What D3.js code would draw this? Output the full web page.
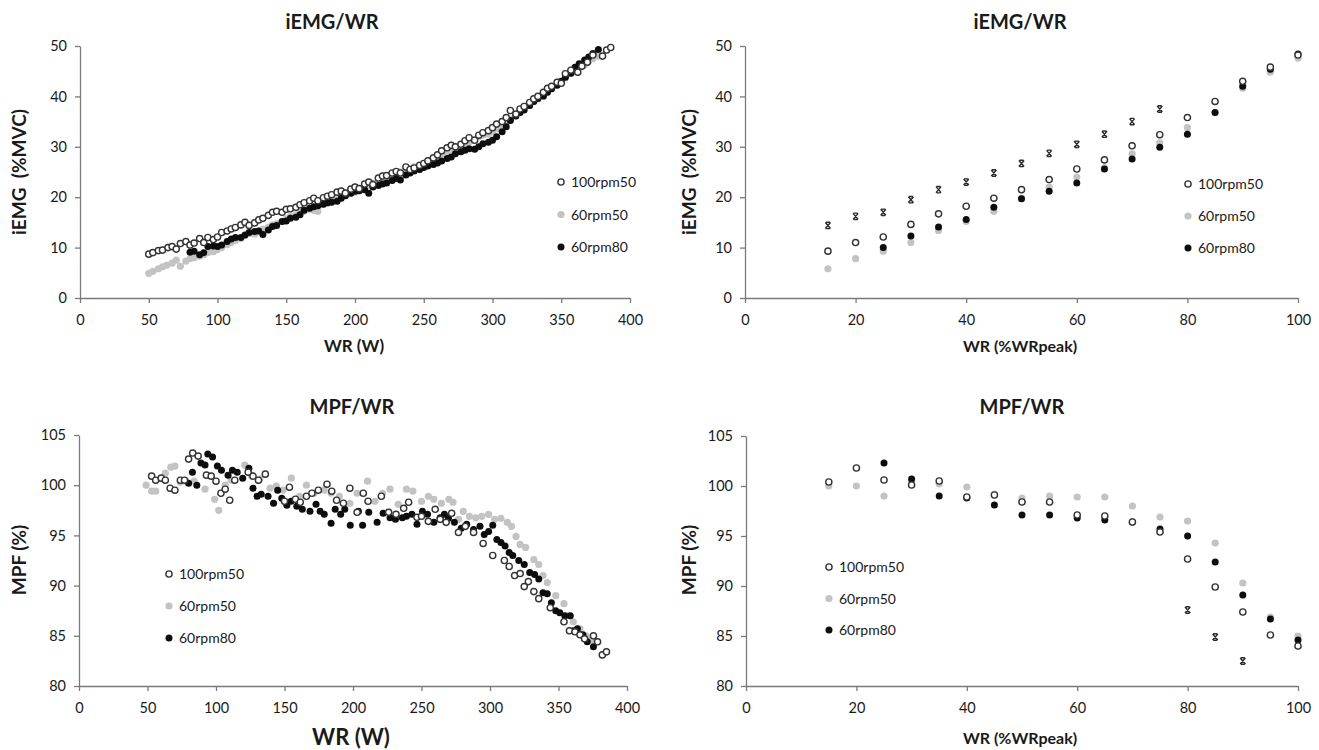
<!DOCTYPE html>
<meta charset="utf-8">
<body style="margin:0;background:#fff">
<style>
  text { font-family: Lato, "Open Sans", sans-serif; fill: #1a1a1a; }
  .axis path, .axis line { stroke: #7a7a7a; stroke-width: 1.3px; }
  .axis text { font-size: 14.5px; }
  .ttl { font-size: 20px; font-weight: bold; }
  .lbl { font-size: 19px; font-weight: bold; white-space: pre; }
  .leg { font-size: 14px; }
</style>
<script src="https://d3js.org/d3.v7.min.js"></script>
<script>
// ---- data: iEMG vs absolute WR (W) ----
var iemgW_100rpm50 = [[50,8.7],[53,9.0],[57,9.4],[60,9.5],[64,10],[67,10.2],[70,9.7],[73,10.8],[77,11.2],[80,10.5],[83,10.9],[87,11.8],[90,11],[93,12],[97,11.6],[100,12.1],[103,13],[107,13.3],[110,13.7],[113,14],[117,14.5],[120,15],[123,14.4],[127,14.9],[130,15.5],[133,15.8],[137,16.4],[140,17],[143,17.2],[147,17],[150,17.6],[153,17.7],[157,18],[160,18.5],[163,18.9],[167,19.3],[170,19.8],[173,19.3],[177,19.9],[180,20.2],[183,20.5],[187,21],[190,21.2],[193,20.8],[197,21.6],[200,22],[203,21.7],[207,22.6],[210,23],[213,22.5],[217,23.8],[220,24.2],[223,24.3],[227,24.8],[230,25.1],[233,24.8],[237,26],[240,25.5],[243,25.8],[247,26.3],[250,26.7],[253,27.2],[257,27.8],[260,28.4],[263,29.2],[267,29.8],[270,30.3],[273,30],[277,30.5],[280,31.2],[283,31.8],[287,31.3],[290,32.3],[293,32.8],[297,33.2],[300,33.8],[303,34.5],[307,35],[310,35.8],[313,37.2],[317,36.5],[320,37.5],[323,38],[327,38.8],[330,39.5],[333,40],[337,40.8],[340,41.6],[343,42],[347,42.8],[350,42.6],[353,44.5],[357,45.2],[362,44.8],[365,46],[369,46.8],[373,48.2],[380,48],[383,49.2],[386,49.7]];
var iemgW_60rpm50 = [[50,4.9],[53,5.3],[57,5.8],[60,6.2],[63,6.5],[67,6.9],[70,7.5],[73,6.3],[77,7.3],[80,7.8],[83,8],[87,8.3],[90,8.6],[93,9],[97,9.2],[100,9.6],[103,10],[107,10.6],[110,11],[113,11.4],[117,11.8],[120,12.4],[123,12.8],[127,12.7],[130,13.3],[133,13.6],[137,14],[140,14.5],[143,14.7],[147,15.2],[150,15.7],[153,16.2],[157,16.5],[160,17],[163,17.2],[167,17.6],[170,17.4],[173,17.2],[177,18.6],[180,18.8],[183,19.2],[187,19.5],[190,20],[193,20.4],[197,20.8],[200,21],[203,21.3],[207,21.8],[210,22.4],[213,22.8],[217,23.2],[220,23.5],[223,24],[227,24.3],[230,24.7],[233,25],[237,25.4],[240,25.6],[243,26],[247,26.4],[250,26.6],[253,27],[257,27.6],[260,28],[263,28.6],[267,29],[270,29.5],[273,29.8],[277,30.2],[280,30.5],[283,31],[287,31.5],[290,32],[293,32.3],[297,32.5],[300,33],[303,33.6],[307,34.3],[310,34.8],[313,35.5],[317,36.2],[320,37],[323,37.6],[327,38.2],[330,39],[333,39.5],[337,40],[340,41],[343,41.6],[347,42.3],[350,43],[353,43.7],[357,44.5],[360,45.3],[363,45.6],[367,46.3],[370,47],[373,47.5],[377,48]];
var iemgW_60rpm80 = [[80,9.1],[83,9.3],[87,8.6],[90,9],[93,10.2],[97,10.3],[100,10.2],[103,10.5],[107,11.2],[110,11.7],[113,12],[117,12],[120,12.5],[123,13],[127,13.2],[130,13.3],[133,12.6],[137,13.5],[140,14.2],[143,14.4],[147,15.2],[150,15.3],[153,15.8],[157,16],[160,16.5],[163,17.4],[167,17.8],[170,18.1],[173,18.3],[177,18.6],[180,18.9],[183,19],[187,19.2],[190,19.8],[193,20.3],[197,20.8],[200,21.2],[203,21.3],[207,21.5],[210,20.8],[213,22],[217,22.3],[220,22.6],[223,22.8],[227,23.3],[230,23.7],[233,23.4],[237,24.4],[240,24.8],[243,25.2],[247,25.5],[250,25.9],[253,26.2],[257,26.5],[260,26.8],[263,27.2],[267,27.7],[270,28],[273,28.6],[277,29],[280,29.3],[283,29.6],[287,29.5],[290,30],[293,30.6],[297,30.9],[300,31.3],[303,32],[307,33],[310,34],[313,35.2],[317,36.1],[320,36.8],[323,37.3],[327,38.2],[330,39],[333,39.6],[337,40.1],[340,40.8],[343,41.5],[347,42.2],[350,43],[353,43.8],[357,44.6],[360,45.8],[363,46.5],[367,47.2],[370,47.8],[373,48.5],[377,49.3]];

// ---- data: iEMG vs relative WR (%WRpeak) ----
var pctX = [15,20,25,30,35,40,45,50,55,60,65,70,75,80,85,90,95,100];
var iemgP_100rpm50 = [9.3,11,12.1,14.6,16.7,18.2,19.8,21.5,23.5,25.6,27.4,30.2,32.4,35.8,39,43,45.8,48.2];
var iemgP_60rpm50 = [5.8,7.8,9.3,11,13.4,15.2,17.2,19.8,22,24,25.8,28.6,30.8,33.8,36.8,41.6,44.8,47.6];
var iemgP_60rpm80 = [null,null,10,12.3,14.1,15.6,18,19.7,21.2,22.8,25.6,27.6,29.9,32.5,36.8,42,45.4,48.4];
var iemgP_star = [14.4,16.2,17,19.5,21.5,23,24.8,26.7,28.7,30.5,32.5,35,37.5,null,null,null,null,null];

// ---- data: MPF vs absolute WR (W) ----
var mpfW_100rpm50 = [[53,100.9],[56,100.5],[60,100.7],[63,100.5],[66.5,99.7],[70,99.5],[74,100.5],[77,100.5],[80,102.6],[83,103.2],[87,102.9],[93,101],[96.5,100.9],[100,100.4],[103.6,99.2],[106.7,99.6],[110,98.5],[113.7,100.5],[123.5,101.3],[127,100.9],[131,100.5],[136,101.1],[150,98.4],[153.6,99.8],[158,98.6],[161.5,98.3],[166,98.9],[170,99.2],[174.7,99.5],[181,100.1],[184.5,99.4],[188,98.5],[193,98.2],[197.7,99.7],[203,97.3],[207.5,99.2],[211,98.4],[220.7,98.9],[226,97.3],[231.4,97.1],[237,97.7],[240.6,98.3],[246.7,96.8],[250,96.9],[255,96.4],[260,97.6],[263.6,96.6],[268,96.3],[272,97.2],[277,95.3],[282,95.9],[288,95.3],[295,94.2],[302,93],[310.5,92.5],[314,91.9],[318,91],[322,91.2],[325,89.9],[328,90.4],[332,89.4],[335.6,88.7],[344,87.8],[354,86.4],[358,85.5],[362,85.4],[365.7,85.1],[369,84.7],[375.5,85],[378.5,84.4],[382,83.1],[385,83.4]];
var mpfW_60rpm50 = [[49,100],[53,99.4],[56,99.4],[63,101.2],[67,101.8],[70,101.9],[74,100.3],[78,100.4],[84,100.4],[92,99.6],[99,98.6],[102,97.5],[106.7,100],[111,100.5],[121,102],[125.7,101],[132,100.6],[139.5,99.7],[144,99.9],[149,99.5],[155,100.7],[161,98.9],[166,100],[171.6,99.2],[179,99.5],[184,99.2],[190,98.9],[197.7,98.2],[203,99.2],[210.6,100.4],[216,98.4],[221.6,99.2],[227,99.6],[233,98.1],[239,99.6],[243.7,99.4],[250,98.4],[255,98.9],[259,98.6],[264.5,98.2],[270,98.6],[273,98.3],[277,96.6],[280.5,97.4],[285,96.9],[289.6,96.75],[294,96.9],[299,97.1],[303.4,96.6],[308,96.7],[312.6,96.3],[315.7,95.9],[319,94.9],[322,94.1],[326,93.8],[332,92.6],[335.6,92.1],[338.7,91],[341.8,90.3],[348,89],[354,88.2],[357,87],[360.8,86.4],[365.7,85.7],[370,85],[374,84.6],[378.5,84.4]];
var mpfW_60rpm80 = [[80,100.2],[82.8,101.3],[86,100],[89,102.2],[92,102],[94,103.1],[97.5,102.8],[101,101.9],[104,101.5],[108.8,101],[112,101.5],[115.5,101.3],[119.5,100.7],[124,101.7],[127,99.7],[130,98.9],[133,99.1],[138,98.9],[142,98.2],[145,99.5],[148,98.7],[151.7,98],[154.8,98.4],[159,97.9],[163,97.6],[168.6,97.4],[173,98.1],[176,97.4],[179,97.1],[184,96.2],[187,97.6],[191,97.1],[194,97.6],[198,96],[204,97.4],[207,96],[211.5,97.3],[217.6,96.3],[222,97.2],[227,96.75],[231,96.6],[236,96.75],[239,96.9],[243,97.1],[246.7,96.1],[250.7,97.4],[254.4,97.1],[259,96.3],[263.6,96.75],[266.7,97.1],[269.7,96.7],[274,96.3],[279,95.7],[283,96.1],[288,95.6],[292.7,95.9],[295.8,95.1],[299,95.4],[302,96],[305,94.6],[308,94.3],[311,93.95],[314,93.3],[316.6,93],[321,92.5],[325,92.1],[329,91.3],[332.6,91.1],[335.6,90.65],[338.7,89.3],[341.8,89.2],[344.8,88.3],[348,87.5],[351,87.3],[354.6,87],[358.6,87],[360.8,85.5],[363.8,85.7],[367.8,85.1],[371,84.4],[375.5,83.9]];

// ---- data: MPF vs relative WR (%WRpeak) ----
var mpfP_100rpm50 = [100.4,101.8,100.6,100.1,100.5,98.9,99.1,98.4,98.4,97.1,97,96.4,95.4,92.7,89.9,87.4,85.1,84];
var mpfP_60rpm50 = [100,100,99,100.5,100.2,99.9,99.2,98.8,99,98.9,98.9,98,96.9,96.5,94.3,90.3,86.9,85];
var mpfP_60rpm80 = [null,null,102.3,100.7,99,98.8,98.1,97.1,97.1,96.8,96.6,96.4,95.7,95,92.4,89.1,86.7,84.6];
var mpfP_star = [null,null,null,null,null,null,null,null,null,null,null,null,null,87.6,84.9,82.5,null,null];

var seriesNames = ["100rpm50", "60rpm50", "60rpm80"];
var wTicks = [0,50,100,150,200,250,300,350,400];
var pTicks = [0,20,40,60,80,100];
var iemgTicks = [0,10,20,30,40,50];
var mpfTicks = [80,85,90,95,100,105];

function pairs(xs, ys) {
  return xs.map(function(x, i) { return [x, ys[i]]; }).filter(function(d) { return d[1] != null; });
}

var styles = [
  {fill: "#fff", stroke: "#333", r: 3.1, sw: 1.4},
  {fill: "#c3c3c3", stroke: "none", r: 3.6, sw: 0},
  {fill: "#0d0d0d", stroke: "none", r: 3.5, sw: 0}
];

var svg = d3.select("body").append("svg").attr("width", 1319).attr("height", 750);

function panel(cfg) {
  var x = d3.scaleLinear().domain(cfg.xd).range(cfg.xr);
  var y = d3.scaleLinear().domain(cfg.yd).range(cfg.yr);
  var g = svg.append("g");

  g.append("g").attr("class", "axis")
    .attr("transform", "translate(0," + cfg.yr[0] + ")")
    .call(d3.axisBottom(x).tickValues(cfg.xt).tickSize(5).tickSizeOuter(0).tickPadding(12));
  g.append("g").attr("class", "axis")
    .attr("transform", "translate(" + cfg.xr[0] + ",0)")
    .call(d3.axisLeft(y).tickValues(cfg.yt).tickSize(5).tickSizeOuter(0).tickPadding(8));

  // series: grey first, then black, then open on top
  [1, 2, 0].forEach(function(k) {
    var s = styles[k];
    g.selectAll(null).data(cfg.series[k]).enter().append("circle")
      .attr("cx", function(d) { return x(d[0]); })
      .attr("cy", function(d) { return y(d[1]); })
      .attr("r", s.r).attr("fill", s.fill)
      .attr("stroke", s.stroke).attr("stroke-width", s.sw);
  });
  if (cfg.star) {
    g.selectAll(null).data(cfg.star).enter().append("path")
      .attr("transform", function(d) { return "translate(" + x(d[0]) + "," + y(d[1]) + ")"; })
      .attr("d", "M-2.6,-3L2.6,3M2.6,-3L-2.6,3M-2,-3.2H2M-2,3.2H2")
      .attr("stroke", "#2a2a2a").attr("stroke-width", 1.4).attr("fill", "none");
  }

  g.append("text").attr("class", "ttl").attr("text-anchor", "middle")
    .attr("x", cfg.title[1]).attr("y", cfg.title[2]).text(cfg.title[0]);
  g.append("text").attr("class", "lbl").attr("text-anchor", "middle")
    .style("font-size", cfg.xlab[3] + "px")
    .attr("x", cfg.xlab[1]).attr("y", cfg.xlab[2]).text(cfg.xlab[0]);
  g.append("text").attr("class", "lbl").attr("text-anchor", "middle")
    .attr("transform", "translate(" + cfg.ylab[1] + "," + cfg.ylab[2] + ") rotate(-90)")
    .text(cfg.ylab[0]);

  var leg = g.append("g").attr("transform", "translate(" + cfg.leg[0] + "," + cfg.leg[1] + ")");
  seriesNames.forEach(function(n, i) {
    var s = styles[i];
    leg.append("circle").attr("cx", 0).attr("cy", i * cfg.leg[2]).attr("r", s.r)
      .attr("fill", s.fill).attr("stroke", s.stroke).attr("stroke-width", s.sw);
    leg.append("text").attr("class", "leg").attr("x", 10).attr("y", i * cfg.leg[2] + 5).text(n);
  });
}

panel({
  xd: [0, 400], xr: [80, 630], yd: [0, 50], yr: [298, 46], xt: wTicks, yt: iemgTicks,
  series: [iemgW_100rpm50, iemgW_60rpm50, iemgW_60rpm80],
  title: ["iEMG/WR", 332, 29], xlab: ["WR (W)", 354, 352, 17], ylab: ["iEMG  (%MVC)", 26, 172],
  leg: [561, 182, 32.5]
});
panel({
  xd: [0, 100], xr: [745, 1298], yd: [0, 50], yr: [298, 46], xt: pTicks, yt: iemgTicks,
  series: [pairs(pctX, iemgP_100rpm50), pairs(pctX, iemgP_60rpm50), pairs(pctX, iemgP_60rpm80)],
  star: pairs(pctX, iemgP_star),
  title: ["iEMG/WR", 1020, 29], xlab: ["WR (%WRpeak)", 1020, 352, 16], ylab: ["iEMG  (%MVC)", 696, 172],
  leg: [1188, 184, 32]
});
panel({
  xd: [0, 400], xr: [79, 627], yd: [80, 105], yr: [686, 435], xt: wTicks, yt: mpfTicks,
  series: [mpfW_100rpm50, mpfW_60rpm50, mpfW_60rpm80],
  title: ["MPF/WR", 352, 414], xlab: ["WR (W)", 351, 745, 22], ylab: ["MPF (%)", 26, 560],
  leg: [169, 574, 32]
});
panel({
  xd: [0, 100], xr: [746, 1298], yd: [80, 105], yr: [686, 436], xt: pTicks, yt: mpfTicks,
  series: [pairs(pctX, mpfP_100rpm50), pairs(pctX, mpfP_60rpm50), pairs(pctX, mpfP_60rpm80)],
  star: pairs(pctX, mpfP_star),
  title: ["MPF/WR", 1022, 414], xlab: ["WR (%WRpeak)", 1020, 744, 16], ylab: ["MPF (%)", 696, 560],
  leg: [829, 567, 31.5]
});
</script>
</body>
